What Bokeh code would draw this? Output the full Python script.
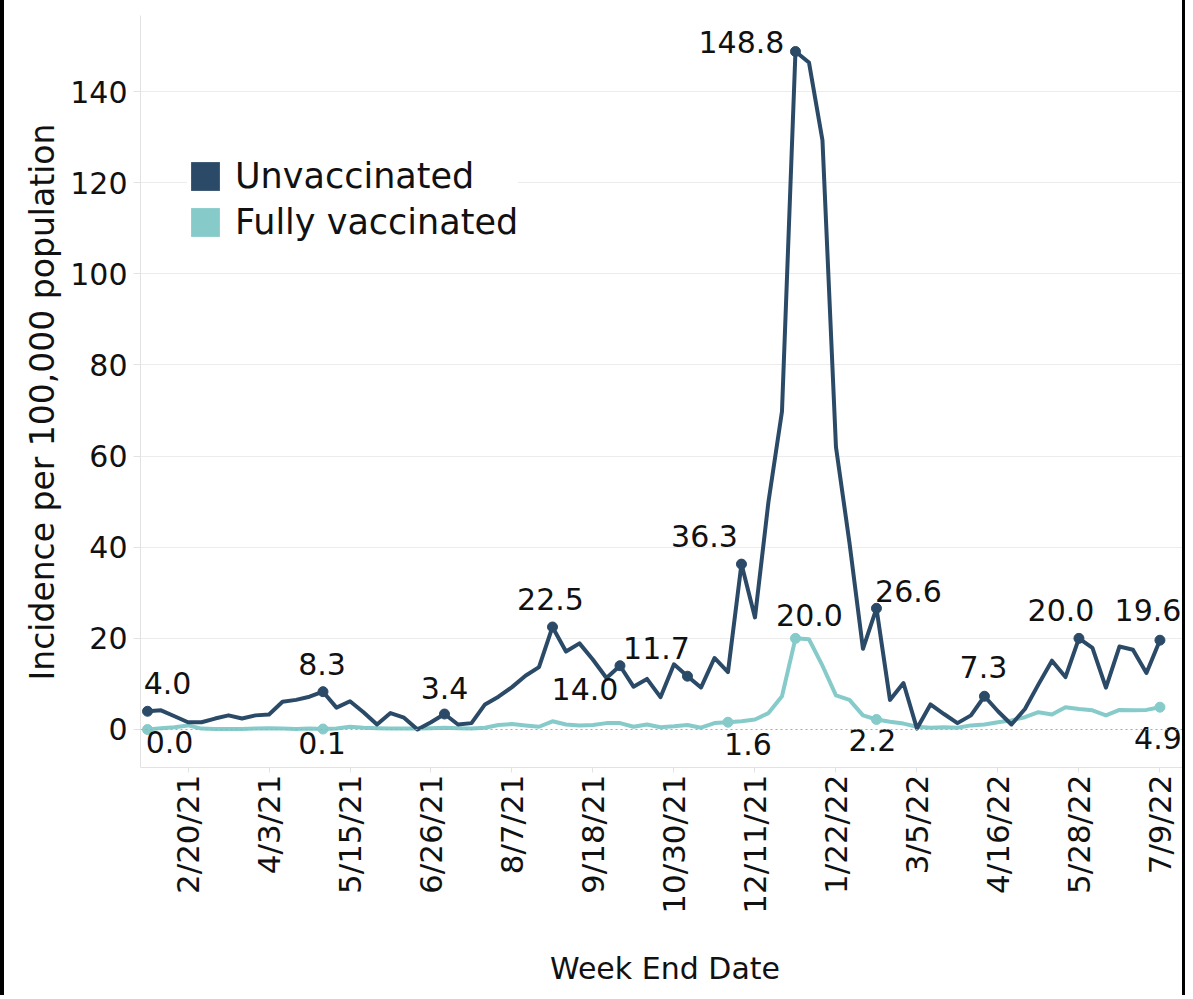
import numpy as np
import pandas as pd
from bokeh.plotting import figure
from bokeh.models import (ColumnDataSource, FixedTicker, Legend, LegendItem, Span, Range1d, Title)
from bokeh.core.properties import value
from bokeh.embed import file_html
from bokeh.resources import INLINE

# ---------------- data ----------------
week_end_dates = pd.date_range("2021-01-30", periods=76, freq="7D")

unvaccinated = [4.0, 4.2, 2.9, 1.6, 1.6, 2.4, 3.1, 2.4, 3.1, 3.3,
                6.1, 6.5, 7.2, 8.3, 4.8, 6.2, 3.8, 1.1, 3.6, 2.6,
                0.0, 1.6, 3.4, 1.1, 1.4, 5.5, 7.2, 9.3, 11.8, 13.7,
                22.5, 17.1, 18.9, 15.3, 11.3, 14.0, 9.4, 11.1, 7.1, 14.3,
                11.7, 9.2, 15.7, 12.6, 36.3, 24.6, 50.0, 69.8, 148.8, 146.4,
                129.3, 62.0, 41.0, 17.7, 26.6, 6.5, 10.2, 0.2, 5.5, 3.4,
                1.4, 3.1, 7.3, 4.0, 1.1, 4.5, 9.9, 15.1, 11.5, 20.0,
                17.9, 9.2, 18.2, 17.5, 12.4, 19.6]

fully_vaccinated = [0.0, 0.3, 0.5, 0.9, 0.2, 0.1, 0.1, 0.1, 0.2, 0.3,
                    0.2, 0.1, 0.2, 0.1, 0.2, 0.6, 0.4, 0.3, 0.2, 0.2,
                    0.2, 0.3, 0.4, 0.3, 0.2, 0.4, 1.0, 1.2, 0.9, 0.6,
                    1.8, 1.1, 0.9, 1.0, 1.4, 1.4, 0.6, 1.1, 0.5, 0.7,
                    1.0, 0.4, 1.4, 1.6, 1.8, 2.2, 3.6, 7.3, 20.0, 19.8,
                    14.0, 7.5, 6.5, 3.1, 2.2, 1.7, 1.3, 0.6, 0.4, 0.5,
                    0.4, 0.9, 1.1, 1.6, 2.0, 2.7, 3.8, 3.3, 4.9, 4.5,
                    4.2, 3.1, 4.3, 4.2, 4.3, 4.9]

x_tick_labels = ["2/20/21", "4/3/21", "5/15/21", "6/26/21", "8/7/21", "9/18/21",
                 "10/30/21", "12/11/21", "1/22/22", "3/5/22", "4/16/22", "5/28/22", "7/9/22"]
y_ticks = [0, 20, 40, 60, 80, 100, 120, 140]
y_title = "Incidence per 100,000 population"
x_title = "Week End Date"

# labelled points: series, week index
label_series = ["u", "t", "u", "t", "u", "u", "u", "u", "u", "u", "t", "t", "u", "t", "u", "u", "u", "t"]
label_index = [0, 0, 13, 13, 22, 30, 35, 40, 44, 48, 43, 48, 54, 54, 62, 69, 75, 75]

# ---------------- layout / style ----------------
label_dx = [20, 22, -1, -1, 0, -2, -35, -31, -37, -54, 20, 14, 32, -4, -1, -18, -12, -2]
label_dy = [-28, 13, -28, 14, -26, -28, 23, -28, -28, -9, 22, -23, -17, 21, -29, -28, -30, 31]

DARK = "#2b4a67"
TEAL = "#86cbca"
FONT = "DejaVu Sans"

x = np.arange(len(week_end_dates))
date_strs = [f"{d.month}/{d.day}/{d.strftime('%y')}" for d in week_end_dates]
tick_pos = [date_strs.index(t) for t in x_tick_labels]

src = ColumnDataSource(dict(x=x, u=unvaccinated, t=fully_vaccinated))

lx, ly, lt, lc = [], [], [], []
for s, i in zip(label_series, label_index):
    v = unvaccinated[i] if s == "u" else fully_vaccinated[i]
    lx.append(i)
    ly.append(v)
    lt.append(f"{v:.1f}")
    lc.append(DARK if s == "u" else TEAL)
lsrc = ColumnDataSource(dict(x=lx, y=ly, text=lt, c=lc, dx=label_dx, dy=label_dy))

p = figure(width=1185, height=995, output_backend="svg", toolbar_location=None,
           x_range=Range1d(-0.52, 77.19), y_range=Range1d(-8.34, 156.7),
           min_border_left=136, min_border_right=0, min_border_top=15, min_border_bottom=228)
p.styles = {"border-left": "4px solid black", "border-right": "3px solid black"}
p.outline_line_color = None
p.background_fill_color = "white"
p.border_fill_color = "white"

p.xgrid.visible = False
p.ygrid.ticker = FixedTicker(ticks=y_ticks[1:])
p.ygrid.grid_line_color = "#ececec"
p.ygrid.grid_line_width = 1

p.add_layout(Span(location=0, dimension="width", line_color="#a8a8a8",
                  line_dash="2 3", line_width=1))

p.line("x", "t", source=src, line_color=TEAL, line_width=4, line_join="round")
p.line("x", "u", source=src, line_color=DARK, line_width=4, line_join="round")

p.scatter("x", "y", source=lsrc, size=10, fill_color="c", line_color="c")
p.text("x", "y", text="text", source=lsrc, x_offset="dx", y_offset="dy",
       text_font=value(FONT), text_font_size="30px", text_color="#111111",
       text_align="center", text_baseline="middle")

# legend (swatches only; no drawn data)
r_u = p.quad(left=[np.nan], right=[np.nan], top=[np.nan], bottom=[np.nan],
             fill_color=DARK, line_color=None)
r_t = p.quad(left=[np.nan], right=[np.nan], top=[np.nan], bottom=[np.nan],
             fill_color=TEAL, line_color=None)
legend = Legend(items=[LegendItem(label="Unvaccinated", renderers=[r_u]),
                       LegendItem(label="Fully vaccinated", renderers=[r_t])],
                location=(47, 525), glyph_width=36, glyph_height=36, label_height=36,
                spacing=6, padding=4, margin=0, label_standoff=12,
                label_text_font=FONT, label_text_font_size="35px", label_text_color="#111111",
                border_line_color=None, background_fill_color="white", background_fill_alpha=1.0)
p.add_layout(legend)

# axes
p.yaxis.ticker = FixedTicker(ticks=y_ticks)
p.yaxis.major_label_text_font = FONT
p.yaxis.major_label_text_font_size = "30px"
p.yaxis.major_label_text_color = "#111111"
p.yaxis.axis_line_color = "#e2e2e2"
p.yaxis.major_tick_line_color = "#e2e2e2"
p.yaxis.major_tick_out = 7
p.yaxis.major_tick_in = 0
p.yaxis.minor_tick_line_color = None
p.yaxis.major_label_standoff = 6

p.add_layout(Title(text=y_title, align="left", offset=87, text_font=FONT,
                   text_font_size="33px", text_font_style="normal",
                   text_color="#111111", standoff=12), "left")

p.xaxis.ticker = FixedTicker(ticks=tick_pos)
p.xaxis.major_label_overrides = {int(i): lab for i, lab in zip(tick_pos, x_tick_labels)}
p.xaxis.major_label_orientation = np.pi / 2
p.xaxis.major_label_text_font = FONT
p.xaxis.major_label_text_font_size = "31px"
p.xaxis.major_label_text_color = "#111111"
p.xaxis.axis_line_color = "#e2e2e2"
p.xaxis.major_tick_line_color = "#e2e2e2"
p.xaxis.major_tick_out = 5
p.xaxis.major_tick_in = 0
p.xaxis.minor_tick_line_color = None
p.xaxis.major_label_standoff = 2
p.xaxis.axis_label = x_title
p.xaxis.axis_label_text_font = FONT
p.xaxis.axis_label_text_font_size = "30px"
p.xaxis.axis_label_text_font_style = "normal"
p.xaxis.axis_label_text_color = "#111111"
p.xaxis.axis_label_standoff = 34

open("out.html", "w").write(file_html(p, INLINE))
